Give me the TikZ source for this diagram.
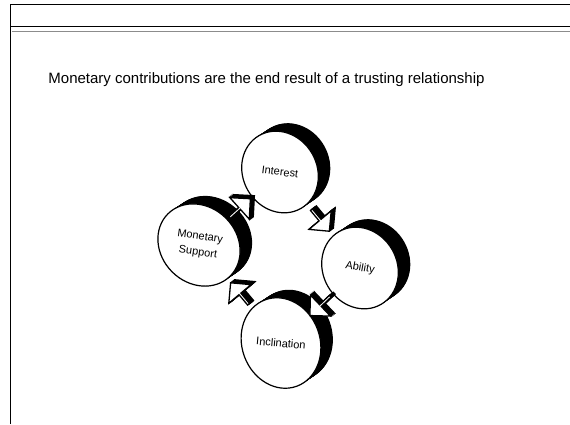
\documentclass[tikz,border=0pt]{standalone}
\usepackage{fontspec}
\setmainfont{Liberation Sans}
\usetikzlibrary{shapes.arrows,calc}
\newcommand\mydisc[4]{%
  \foreach \t in {0,1,...,20}{%
    \fill[black, shift={(#1)}, shift={(0.6*\t,-0.4*\t)}, rotate=#4]
      (0,0) ellipse [x radius=#2pt, y radius=#3pt];}
  \draw[face, shift={(#1)}, rotate=#4] (0,0) ellipse [x radius=#2pt, y radius=#3pt];}
\begin{document}
\begin{tikzpicture}[x=1pt,y=-1pt,
  face/.style={draw=black, line width=1.2pt, fill=white},
  lbl/.style={font=\fontsize{11}{16}\selectfont, align=center, inner sep=0pt},
  barrow/.style={single arrow, draw=black, line width=1.3pt, fill=white,
    minimum height=28pt, minimum width=29pt, single arrow head extend=7pt,
    inner sep=0pt, sloped, allow upside down},
  barrowsh/.style={barrow, fill=black}
]
\useasboundingbox (0,0) rectangle (570,424);
% frame lines
\draw[line width=1.6pt] (10.5,424) -- (10.5,4.5) -- (570,4.5);
\draw[line width=1pt] (10.5,26) -- (570,26);
\draw[line width=0.9pt, black!45] (11.5,31.5) -- (570,31.5);
% title
\node[anchor=base, inner sep=0pt, font=\fontsize{15}{17}\selectfont] (title) at (266.5,83.5)
  {Monetary contributions are the end result of a trusting relationship};
% centres
\coordinate (ci) at (280,172);
\coordinate (ca) at (360,268);
\coordinate (cn) at (281,343);
\coordinate (cm) at (199,245);
% discs
\mydisc{ci}{42}{37}{-60}
\mydisc{ca}{42}{37}{-60}
\mydisc{cn}{46}{39}{-70}
\mydisc{cm}{44}{38}{-45}
% arrows (shadow then face)
\foreach \p/\q/\nm in {cm/ci/arr1, ci/ca/arr2, ca/cn/arr3, cn/cm/arr4}{%
  \foreach \s in {1,2,3,4}{%
    \path ([shift={(\s,-0.75*\s)}]\p) -- ([shift={(\s,-0.75*\s)}]\q)
      node[midway, barrowsh] (\nm s\s) {};}
  \path (\p) -- (\q) node[midway, barrow] (\nm) {};
}
% labels
\node[lbl, rotate=-7] (interest) at (ci) {Interest};
\node[lbl, rotate=-10] (ability) at (ca) {Ability};
\node[lbl, rotate=-5] (inclination) at (cn) {Inclination};
\node[lbl, rotate=-8] (ms) at (cm) {Monetary\\Support};
\end{tikzpicture}
\end{document}
